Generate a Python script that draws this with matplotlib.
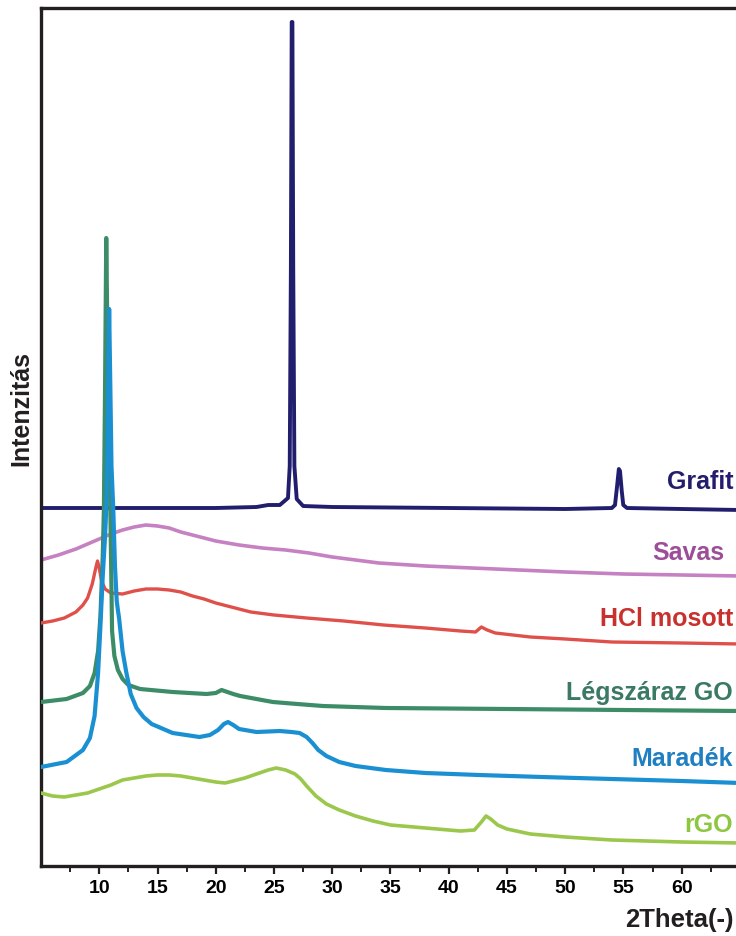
import matplotlib
matplotlib.use("Agg")
import matplotlib.pyplot as plt

plt.rcParams['font.family'] = ['Liberation Sans', 'DejaVu Sans']
plt.rcParams['font.weight'] = 'bold'

# ---- data (2Theta in degrees, intensity in arbitrary stacked units) ----
grafit_x = [5.0, 12.0, 20.0, 23.5, 24.5, 25.5, 26.2, 26.35, 26.45, 26.52, 26.58, 26.65, 26.75, 26.95, 27.5,
            30.0, 40.0, 50.0, 54.0, 54.27, 54.45, 54.6, 54.7, 54.85, 54.98, 55.3, 60.0, 65.0]
grafit_y = [358, 358, 358, 359, 361, 361, 368, 400, 600, 844, 844, 600, 400, 367, 360,
            359, 358, 357, 358, 361, 380, 397, 395, 375, 361, 358, 357, 356]

savas_x = [5.0, 6.5, 8.0, 9.0, 10.0, 11.0, 12.0, 13.0, 14.0, 15.0, 16.0, 17.0, 18.0, 19.0, 20.0,
           22.0, 24.0, 26.0, 28.0, 30.0, 32.0, 34.0, 38.0, 42.0, 46.0, 50.0, 55.0, 60.0, 65.0]
savas_y = [306, 311, 317, 322, 327, 332, 336, 339, 341, 340, 338, 334, 331, 328, 325,
           321, 318, 316, 313, 309, 306, 303, 300, 298, 296, 294, 292, 291, 290]

hcl_x = [5.0, 6.0, 7.0, 8.0, 8.6, 9.0, 9.4, 9.7, 9.85, 10.0, 10.2, 10.5, 11.0, 12.0, 13.0, 14.0, 15.0,
         16.0, 17.0, 18.0, 19.0, 20.0, 21.0, 22.0, 23.0, 25.0, 27.8, 31.0, 34.4, 38.0, 41.0, 42.3,
         42.8, 43.3, 44.0, 47.0, 50.0, 54.0, 60.0, 65.0]
hcl_y = [243, 245, 248, 254, 261, 268, 282, 298, 305, 298, 285, 277, 273, 272, 275, 277, 277,
         276, 274, 270, 267, 263, 260, 257, 254, 251, 248, 245, 241, 238, 235, 234,
         239, 236, 233, 229, 227, 224, 223, 222]

legsz_x = [5.0, 7.2, 8.6, 9.2, 9.6, 9.9, 10.1, 10.3, 10.4, 10.5, 10.6, 10.7, 10.82, 10.95, 11.1, 11.3,
           11.6, 12.0, 12.5, 13.5, 16.3, 19.2, 20.0, 20.5, 21.0, 21.5, 22.1, 23.5, 24.9, 27.0, 29.2,
           34.6, 45.0, 55.0, 65.0]
legsz_y = [164, 167, 173, 180, 193, 215, 250, 310, 358, 480, 628, 530, 420, 358, 235, 210,
           196, 187, 181, 177, 174, 172, 173, 176, 174, 172, 170, 167, 164, 162, 160,
           158, 157, 156, 155]

marad_x = [5.0, 7.2, 8.6, 9.2, 9.6, 9.9, 10.1, 10.3, 10.5, 10.65, 10.75, 10.85, 10.95, 11.05, 11.2,
           11.35, 11.5, 11.6, 11.7, 11.9, 12.0, 12.3, 12.7, 13.2, 13.8, 14.5, 16.3, 18.6, 19.5,
           20.2, 20.7, 21.05, 21.5, 22.0, 23.5, 25.5, 26.5, 27.2, 27.8, 28.3, 28.8, 29.5, 30.6,
           32.0, 34.6, 38.0, 42.6, 48.0, 54.0, 60.0, 65.0]
marad_y = [99, 104, 116, 128, 150, 193, 240, 290, 330, 370, 460, 557, 480, 400, 358,
           300, 265, 256, 248, 226, 215, 195, 172, 158, 149, 142, 133, 129, 131,
           136, 142, 144, 141, 137, 134, 135, 134, 133, 129, 123, 116, 110, 104,
           100, 96, 93, 91, 89, 87, 85, 83]

rgo_x = [5.0, 6.0, 7.0, 8.0, 9.0, 10.0, 11.0, 12.0, 13.0, 14.0, 15.0, 16.0, 17.0, 18.0, 19.0, 20.0,
         20.8, 21.5, 22.5, 23.5, 24.5, 25.2, 26.0, 26.8, 27.3, 27.8, 28.6, 29.5, 30.6, 32.0, 33.5,
         35.0, 38.0, 41.0, 42.2, 42.8, 43.2, 43.6, 44.2, 45.0, 47.0, 50.0, 54.0, 60.0, 65.0]
rgo_y = [73, 70, 69, 71, 73, 77, 81, 86, 88, 90, 91, 91, 90, 88, 86, 84,
         83, 85, 88, 92, 96, 98, 96, 92, 87, 80, 70, 62, 56, 50, 45,
         41, 38, 35, 36, 44, 50, 47, 41, 37, 32, 29, 26, 24, 23]

labels = ["Grafit", "Savas", "HCl mosott", "Légszáraz GO", "Maradék", "rGO"]
label_y = [377, 306, 240, 166, 100, 34]
label_x = [64.4, 63.7, 64.4, 64.4, 64.4, 64.4]
line_colors = ["#221e6e", "#c681c2", "#e0504a", "#3c8c67", "#1a90d2", "#9bc74c"]
text_colors = ["#231d6c", "#9c4f98", "#c8312d", "#3b7a62", "#1f7fc0", "#8dc63f"]

xticks_major = [10, 15, 20, 25, 30, 35, 40, 45, 50, 55, 60]
xticks_minor = [7.5, 12.5, 17.5, 22.5, 27.5, 32.5, 37.5, 42.5, 47.5, 52.5, 57.5, 62.5]

# ---- figure ----
W, H = 736, 936
fig = plt.figure(figsize=(W / 100, H / 100), dpi=100)
left = 41 / W
right = (41 + 60 * 11.65) / W
bottom = (H - 866) / H
top = (H - 8) / H
ax = fig.add_axes([left, bottom, right - left, top - bottom])

series = [(grafit_x, grafit_y, 2.8, 1),
          (savas_x, savas_y, 2.6, 2),
          (hcl_x, hcl_y, 2.4, 3),
          (legsz_x, legsz_y, 3.0, 5),
          (marad_x, marad_y, 3.0, 6),
          (rgo_x, rgo_y, 2.6, 4)]
for (xs, ys, lw, z), c in zip(series, line_colors):
    ax.plot(xs, ys, color=c, lw=lw, zorder=z, solid_joinstyle='round')

for lab, lx, ly, c in zip(labels, label_x, label_y, text_colors):
    ax.text(lx, ly, lab, color=c, fontsize=18, fontweight='bold',
            ha='right', va='baseline', zorder=10)

ax.set_xlim(5, 65)
ax.set_ylim(0, 858)
ax.set_xticks(xticks_major)
ax.set_xticks(xticks_minor, minor=True)
ax.set_yticks([])
ax.tick_params(axis='x', which='major', direction='out', length=6, width=1.6,
               labelsize=14, pad=4, color='#231f20')
ax.tick_params(axis='x', which='minor', direction='out', length=4, width=1.4,
               color='#231f20')
for lbl in ax.get_xticklabels():
    lbl.set_fontweight('bold')
for s in ax.spines.values():
    s.set_linewidth(2.4)
    s.set_color('#231f20')

fig.text(734 / W, 1 - 927 / H, "2Theta(-)", ha='right', va='baseline',
         fontsize=18.5, fontweight='bold', color='#231f20')
fig.text(21 / W, 1 - 408 / H, "Intenzitás", ha='center', va='center',
         rotation=90, fontsize=18, fontweight='bold', color='#231f20')

fig.savefig("out.png", dpi=100)
